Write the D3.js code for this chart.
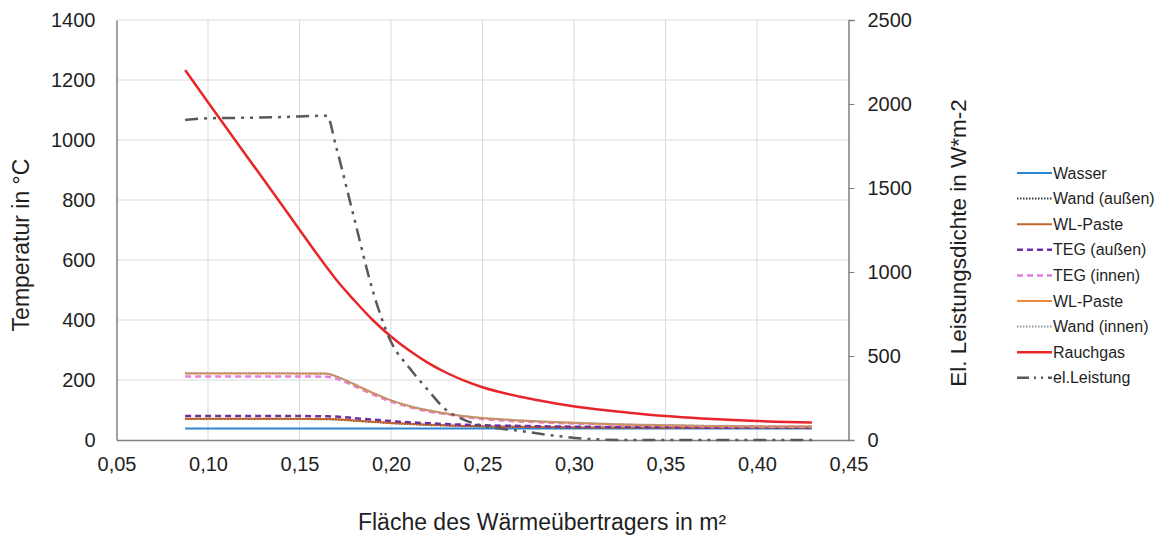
<!DOCTYPE html>
<html>
<head>
<meta charset="utf-8">
<script src="https://cdn.jsdelivr.net/npm/d3@7"></script>
<style>
  body { margin: 0; background: #fff; }
  svg { font-family: "Liberation Sans", Arial, sans-serif; }
  .grid line { stroke: #d9d9d9; stroke-width: 1; }
  .tick text { fill: #1f1f1f; }
</style>
</head>
<body>
<svg width="1166" height="536"></svg>
<script>
// Fläche des Wärmeübertragers (m²)
var flaeche = [0.0875, 0.10, 0.12, 0.14, 0.165, 0.17, 0.18, 0.19, 0.20, 0.21, 0.22, 0.23, 0.24, 0.25, 0.27, 0.29, 0.31, 0.33, 0.35, 0.37, 0.39, 0.41, 0.43];

// Temperaturen in °C
var wasser     = [38, 38, 38, 38, 38, 38, 38, 38, 38, 38, 38, 38, 38, 38, 38, 38, 38, 38, 38, 38, 38, 38, 38];
var wandAussen = [70, 70, 70, 70, 69, 68, 64, 60, 56, 53, 50, 48, 46, 45, 43, 42, 41, 41, 40, 40, 40, 40, 40];
var wlPaste1   = [71, 71, 71, 71, 70, 69, 65, 61, 57, 54, 51, 49, 47, 46, 44, 43, 42, 42, 41, 41, 41, 41, 41];
var tegAussen  = [80, 80, 80, 80, 79, 78, 73, 68, 63, 59, 56, 53, 51, 49, 47, 45, 44, 43, 43, 42, 42, 42, 42];
var tegInnen   = [212, 212, 212, 212, 211, 205, 180, 152, 128, 110, 96, 86, 77, 70, 62, 57, 53, 50, 48, 46, 45, 44, 44];
var wlPaste2   = [222, 222, 222, 222, 221, 212, 185, 157, 132, 113, 99, 88, 79, 73, 65, 59, 55, 51, 49, 47, 46, 45, 45];
var wandInnen  = [223, 223, 223, 223, 222, 213, 186, 158, 133, 114, 100, 89, 80, 74, 66, 60, 56, 52, 50, 48, 47, 46, 46];
var rauchgas   = [1233, 1126, 956, 787, 575, 535, 465, 400, 345, 298, 258, 225, 198, 176, 145, 122, 104, 91, 80, 72, 66, 61, 58];

// el. Leistungsdichte in W*m-2 (rechte Achse)
var leistung   = [1905, 1915, 1918, 1922, 1930, 1745, 1315, 890, 585, 430, 300, 180, 120, 85, 55, 25, 5, 0, 0, 0, 0, 0, 0];

var xTicks = [0.05, 0.10, 0.15, 0.20, 0.25, 0.30, 0.35, 0.40, 0.45];
var yTicks = [0, 200, 400, 600, 800, 1000, 1200, 1400];
var y2Ticks = [0, 500, 1000, 1500, 2000, 2500];

var series = [
  {name: "Wasser",        values: wasser,     color: "#2e86d1", dash: null,               width: 2,   axis: "l"},
  {name: "Wand (außen)",  values: wandAussen, color: "#3a3a3a", dash: "1.5,1.5",          width: 2,   axis: "l"},
  {name: "WL-Paste",      values: wlPaste1,   color: "#c0652c", dash: null,               width: 2,   axis: "l"},
  {name: "TEG (außen)",   values: tegAussen,  color: "#7030a0", dash: "6,4",              width: 2.5, axis: "l"},
  {name: "TEG (innen)",   values: tegInnen,   color: "#e27fe0", dash: "6,4",              width: 2.5, axis: "l"},
  {name: "WL-Paste",      values: wlPaste2,   color: "#ed8a3a", dash: null,               width: 2,   axis: "l"},
  {name: "Wand (innen)",  values: wandInnen,  color: "#9a9a9a", dash: "1.5,1.5",          width: 2,   axis: "l"},
  {name: "Rauchgas",      values: rauchgas,   color: "#e8262a", dash: null,               width: 2.5, axis: "l"},
  {name: "el.Leistung",   values: leistung,   color: "#595959", dash: "13,6,3,6,3,6",     width: 2.5, axis: "r"}
];

var svg = d3.select("svg"),
    pLeft = 116.5, pRight = 848.5, pTop = 20, pBottom = 440;

var de = d3.formatLocale({decimal: ",", thousands: ".", grouping: [3], currency: ["", " €"]});

var x = d3.scaleLinear().domain([0.05, 0.45]).range([pLeft, pRight]);
var y = d3.scaleLinear().domain([0, 1400]).range([pBottom, pTop]);
var y2 = d3.scaleLinear().domain([0, 2500]).range([pBottom, pTop]);

// Gitter
var grid = svg.append("g").attr("class", "grid");
grid.selectAll(".h").data(yTicks.slice(1)).enter().append("line")
  .attr("x1", pLeft).attr("x2", pRight)
  .attr("y1", function(d) { return y(d); }).attr("y2", function(d) { return y(d); });
grid.selectAll(".v").data(xTicks.slice(1, -1)).enter().append("line")
  .attr("y1", pTop).attr("y2", pBottom)
  .attr("x1", function(d) { return x(d); }).attr("x2", function(d) { return x(d); });

// Achsen
var xAxis = svg.append("g")
  .attr("transform", "translate(0," + pBottom + ")")
  .call(d3.axisBottom(x).tickValues(xTicks).tickFormat(de.format(".2f")).tickSize(0).tickPadding(17));
xAxis.selectAll("text").style("font-size", "20px");

var yAxis = svg.append("g")
  .attr("transform", "translate(" + pLeft + ",0)")
  .call(d3.axisLeft(y).tickValues(yTicks).tickFormat(d3.format("d")).tickSize(0).tickPadding(21));
yAxis.selectAll("text").style("font-size", "20px");

var y2Axis = svg.append("g")
  .attr("transform", "translate(" + pRight + ",0)")
  .call(d3.axisRight(y2).tickValues(y2Ticks).tickFormat(d3.format("d")).tickSize(6).tickPadding(13));
y2Axis.selectAll("text").style("font-size", "20px");
y2Axis.selectAll(".tick line").attr("stroke", "#808080");

[xAxis, yAxis, y2Axis].forEach(function(a) {
  a.select(".domain").attr("stroke", "#808080").attr("stroke-width", 1.5);
});

// Linien
var lines = svg.append("g");
series.forEach(function(s) {
  var scale = s.axis == "r" ? y2 : y;
  var line = d3.line()
    .x(function(d, i) { return x(flaeche[i]); })
    .y(function(d) { return scale(d); })
    .curve(d3.curveMonotoneX);
  lines.append("path")
    .datum(s.values)
    .attr("fill", "none")
    .attr("stroke", s.color)
    .attr("stroke-width", s.width)
    .attr("stroke-dasharray", s.dash)
    .attr("d", line);
});

// Achsentitel
svg.append("text")
  .attr("transform", "translate(29,245) rotate(-90)")
  .attr("text-anchor", "middle")
  .style("font-size", "23px").style("fill", "#1f1f1f")
  .text("Temperatur in °C");

svg.append("text")
  .attr("transform", "translate(966,243) rotate(-90)")
  .attr("text-anchor", "middle")
  .style("font-size", "22.5px").style("fill", "#1f1f1f")
  .text("El. Leistungsdichte in W*m-2");

svg.append("text")
  .attr("x", 542).attr("y", 530)
  .attr("text-anchor", "middle")
  .style("font-size", "23px").style("fill", "#1f1f1f")
  .text("Fläche des Wärmeübertragers in m²");

// Legende
var legend = svg.append("g").attr("transform", "translate(1017,173)");
var item = legend.selectAll("g").data(series).enter().append("g")
  .attr("transform", function(d, i) { return "translate(0," + (i * 25.6) + ")"; });
item.append("line")
  .attr("x1", 0).attr("x2", 35)
  .attr("stroke", function(d) { return d.color; })
  .attr("stroke-width", function(d) { return d.width; })
  .attr("stroke-dasharray", function(d) { return d.dash == "13,6,3,6,3,6" ? "12,5,2,5,2,5" : d.dash; });
item.append("text")
  .attr("x", 36).attr("dy", "0.35em")
  .style("font-size", "16px").style("fill", "#1f1f1f")
  .text(function(d) { return d.name; });
</script>
</body>
</html>
